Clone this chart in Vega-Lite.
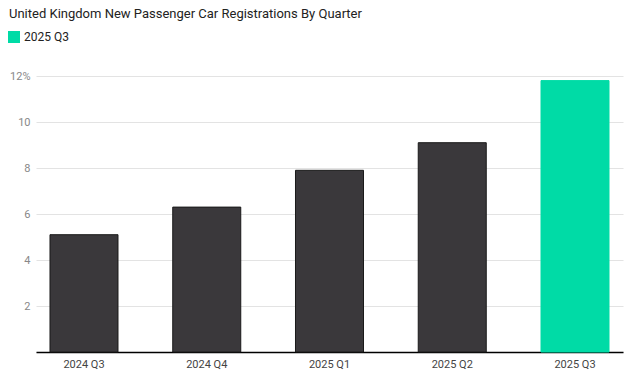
{
  "$schema": "https://vega.github.io/schema/vega-lite/v6.json",
  "width": 587,
  "height": 276,
  "autosize": {"type": "none"},
  "padding": {"left": 36, "top": 76, "right": 11, "bottom": 23},
  "background": "white",
  "config": {
    "font": "Roboto",
    "view": {"stroke": null}
  },
  "title": {
    "text": "United Kingdom New Passenger Car Registrations By Quarter",
    "anchor": "start",
    "frame": "group",
    "dx": -27,
    "offset": 10,
    "fontSize": 13,
    "fontWeight": "normal",
    "color": "#222222",
    "font": "Roboto"
  },
  "data": {
    "values": [
      {"quarter": "2024 Q3", "value": 5.1, "group": "other"},
      {"quarter": "2024 Q4", "value": 6.3, "group": "other"},
      {"quarter": "2025 Q1", "value": 7.9, "group": "other"},
      {"quarter": "2025 Q2", "value": 9.1, "group": "other"},
      {"quarter": "2025 Q3", "value": 11.8, "group": "2025 Q3"}
    ]
  },
  "mark": {"type": "bar", "strokeWidth": 1},
  "encoding": {
    "x": {
      "field": "quarter",
      "type": "ordinal",
      "sort": null,
      "scale": {"paddingInner": 0.446, "paddingOuter": 0.114},
      "axis": {
        "title": null,
        "labelAngle": 0,
        "labelColor": "#444444",
        "labelFontSize": 11,
        "labelPadding": 6,
        "ticks": false,
        "domainColor": "#000000",
        "domainWidth": 1.5,
        "domainCap": "butt"
      }
    },
    "y": {
      "field": "value",
      "type": "quantitative",
      "scale": {"domain": [0, 12], "nice": false},
      "axis": {
        "title": null,
        "values": [0, 2, 4, 6, 8, 10, 12],
        "labelExpr": "datum.value == 0 ? '' : (datum.value == 12 ? '12%' : datum.label)",
        "labelColor": "#888888",
        "labelFontSize": 11,
        "labelPadding": 6,
        "ticks": false,
        "domain": false,
        "gridColor": "#e3e3e3",
        "gridWidth": 1
      }
    },
    "color": {
      "field": "group",
      "type": "nominal",
      "scale": {"domain": ["2025 Q3", "other"], "range": ["#00dba6", "#3a383b"]},
      "legend": {
        "values": ["2025 Q3"],
        "title": null,
        "orient": "none",
        "legendX": -28,
        "legendY": -45,
        "symbolType": "square",
        "symbolSize": 144,
        "symbolStrokeWidth": 0,
        "labelFontSize": 12,
        "labelColor": "#222222",
        "labelOffset": 4
      }
    },
    "stroke": {
      "condition": {"test": "datum.quarter == '2025 Q3'", "value": "#00dba6"},
      "value": "#1a1a1a"
    }
  }
}
